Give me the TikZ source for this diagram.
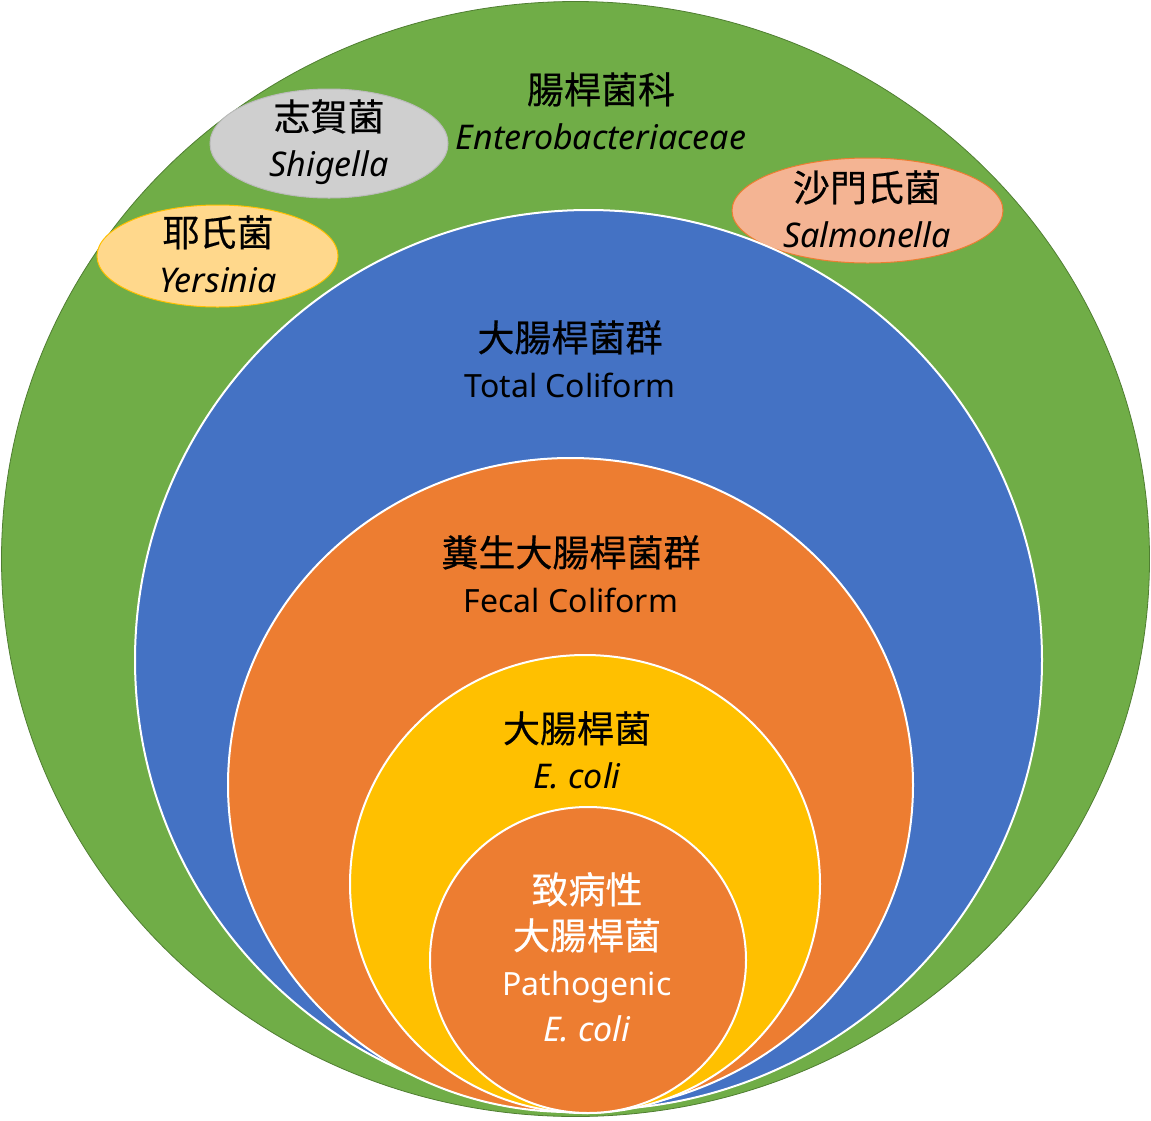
\documentclass[tikz,border=0pt]{standalone}
\usepackage{fontspec}
\setmainfont{Noto Sans}
\newfontfamily\cjk[FakeBold=0.5]{Noto Sans CJK TC}
\usetikzlibrary{positioning}
\definecolor{famgreen}{HTML}{70AD47}
\definecolor{famgreenline}{HTML}{507E32}
\definecolor{totalblue}{HTML}{4472C4}
\definecolor{fecalorange}{HTML}{ED7D31}
\definecolor{coliyellow}{HTML}{FFC000}
\definecolor{shigray}{HTML}{CFCFCF}
\definecolor{shigrayline}{HTML}{BBBBBB}
\definecolor{yersgold}{HTML}{FFD88C}
\definecolor{salmpink}{HTML}{F4B493}
\newcommand{\zh}[1]{{\cjk\fontsize{37}{46}\selectfont #1}}
\newcommand{\genus}[1]{{\fontsize{34}{46}\selectfont\itshape #1}}
\begin{document}
\begin{tikzpicture}[x=1pt, y=-1pt,
  every node/.style={align=center, inner sep=0pt, font=\fontsize{32}{46}\selectfont},
  ring/.style={draw=white, line width=2pt}]
\useasboundingbox (0,0) rectangle (1151,1120);
\filldraw[fill=famgreen, draw=famgreenline, line width=0.8pt] (575.5,559) ellipse [x radius=574, y radius=557.5];
\filldraw[fill=shigray, draw=shigrayline, line width=1pt] (329,143.5) ellipse [x radius=119, y radius=54.5];
\filldraw[fill=yersgold, draw=coliyellow, line width=1pt] (217.5,256) ellipse [x radius=120.5, y radius=51];
\filldraw[fill=salmpink, draw=fecalorange, line width=1pt] (867.5,210.5) ellipse [x radius=135.5, y radius=52.5];
\filldraw[fill=totalblue, ring] (588.5,660) ellipse [x radius=453.5, y radius=450];
\filldraw[fill=fecalorange, ring] (570.5,785) ellipse [x radius=342.5, y radius=327];
\filldraw[fill=coliyellow, ring] (585,884) ellipse [x radius=235, y radius=229];
\filldraw[fill=fecalorange, ring] (588,960) ellipse [x radius=158, y radius=153];
\node (Entero) at (601,111) {\zh{腸桿菌科}\\\genus{Enterobacteriaceae}};
\node (Shigella) at (329,142) {\zh{志賀菌}\\\genus{Shigella}};
\node (Yersinia) at (218,254) {\zh{耶氏菌}\\\genus{Yersinia}};
\node (Salmonella) at (867,209) {\zh{沙門氏菌}\\\genus{Salmonella}};
\node (Total) at (570,359) {\zh{大腸桿菌群}\\Total Coliform};
\node (Fecal) at (571,574) {\zh{糞生大腸桿菌群}\\Fecal Coliform};
\node (Ecoli) at (577,750) {\zh{大腸桿菌}\\\genus{E. coli}};
\node (Patho) [text=white] at (587,957) {\zh{致病性}\\\zh{大腸桿菌}\\Pathogenic\\\genus{E. coli}};
\end{tikzpicture}
\end{document}
